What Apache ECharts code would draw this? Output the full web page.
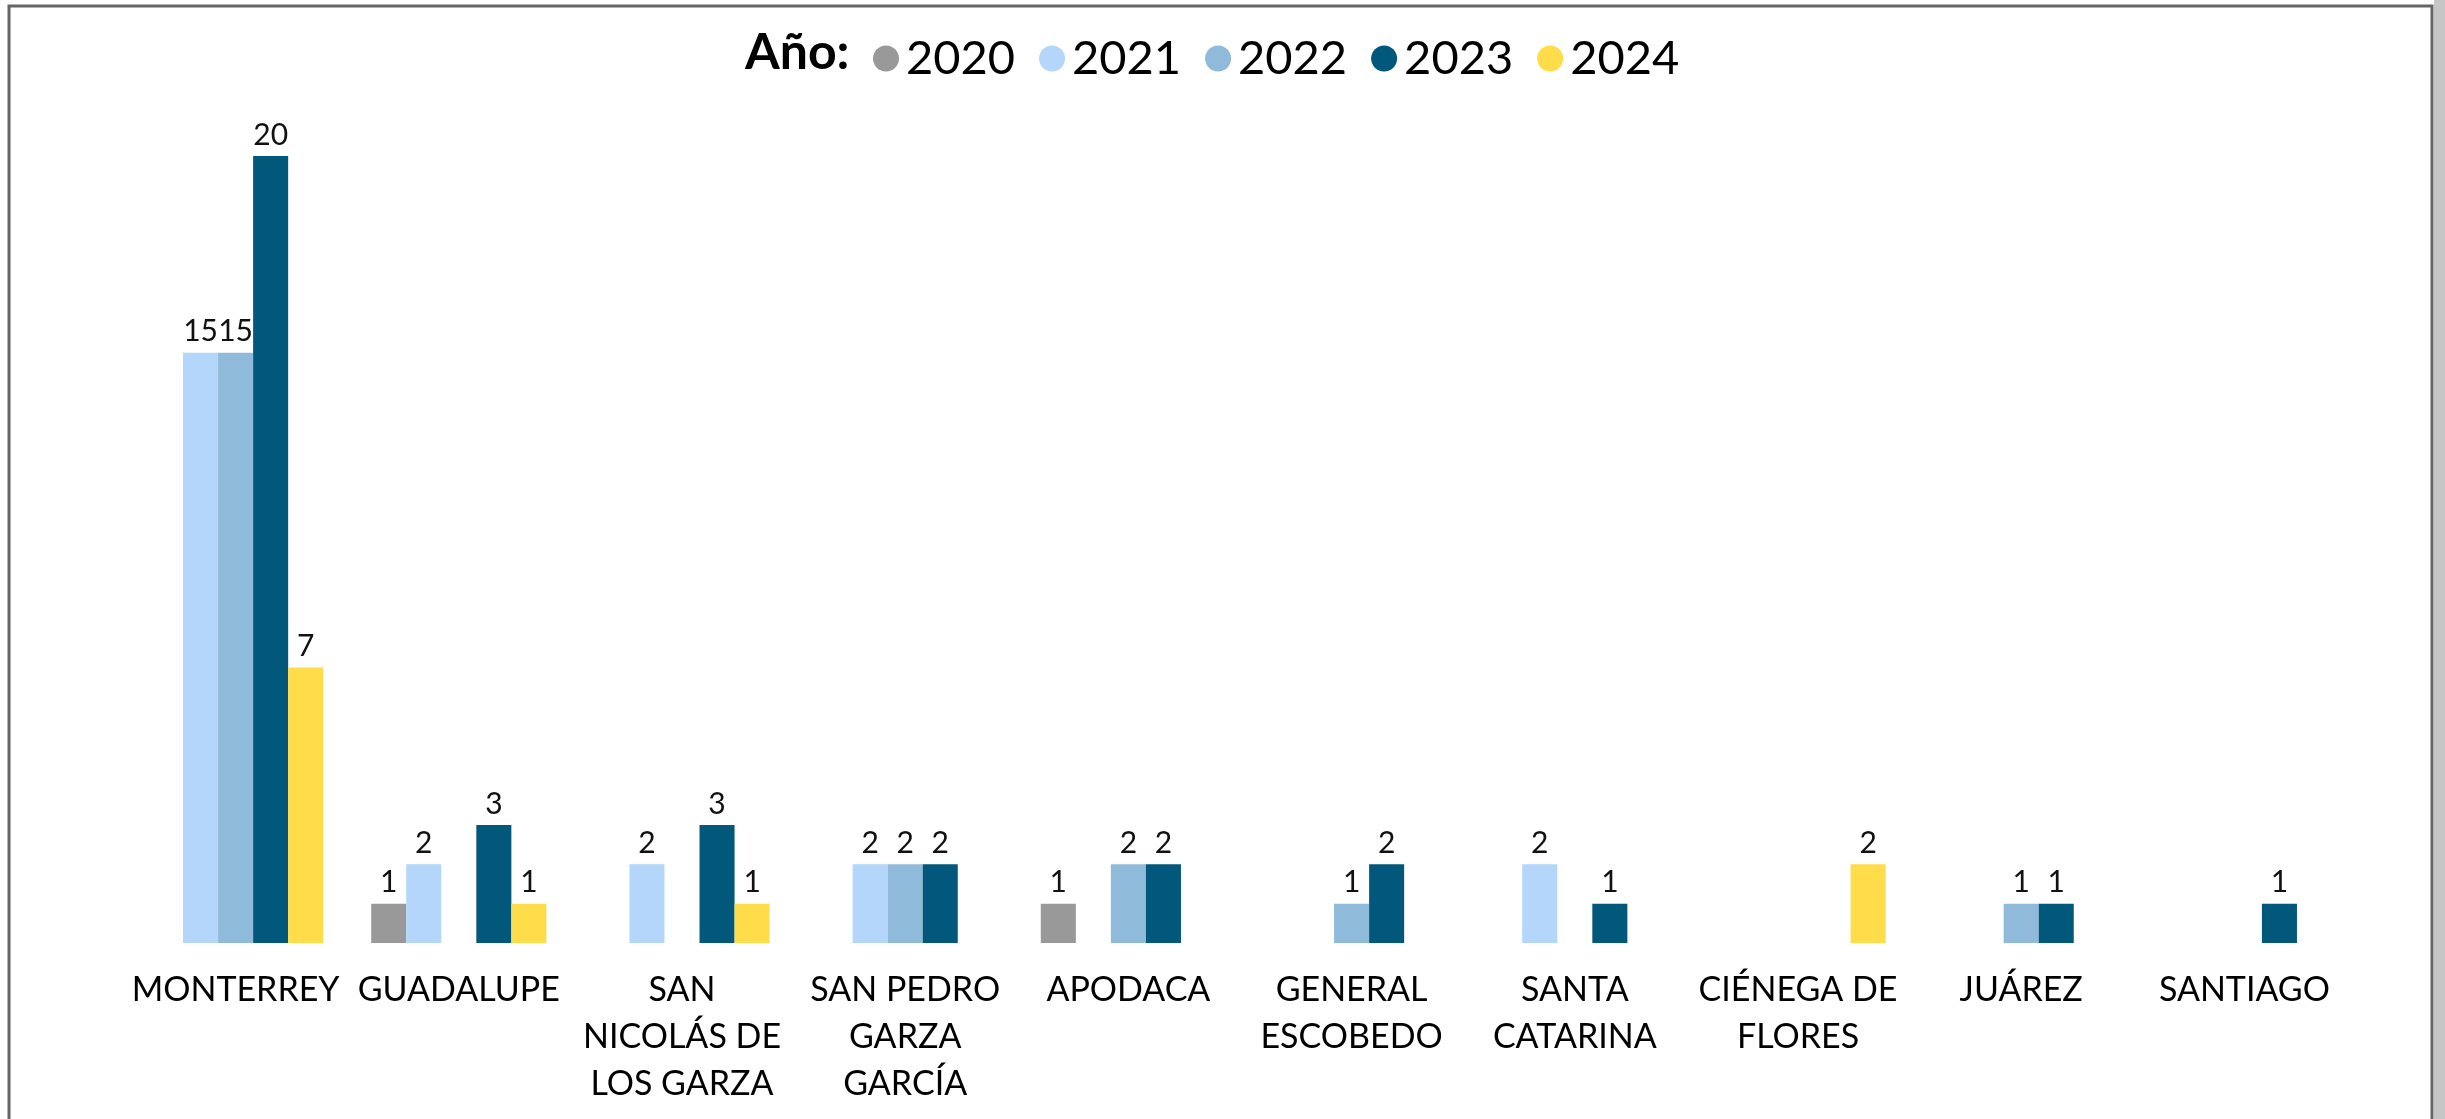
<!DOCTYPE html>
<html>
<head>
<meta charset="utf-8">
<title>Año</title>
<script src="https://cdn.jsdelivr.net/npm/echarts@6/dist/echarts.min.js"></script>
<style>
  html, body { margin: 0; padding: 0; background: #fff; }
  #main { width: 2445px; height: 1119px; }
</style>
</head>
<body>
<div id="main"></div>
<script>
  // municipios
  var categories = [
    'MONTERREY', 'GUADALUPE', 'SAN\nNICOLÁS DE\nLOS GARZA', 'SAN PEDRO\nGARZA\nGARCÍA', 'APODACA',
    'GENERAL\nESCOBEDO', 'SANTA\nCATARINA', 'CIÉNEGA DE\nFLORES', 'JUÁREZ', 'SANTIAGO'
  ];
  var years = ['2020', '2021', '2022', '2023', '2024'];
  var colors = ['#999999', '#b3d6fa', '#8fbad9', '#01587a', '#ffdd4a'];

  var y2020 = [null, 1, null, null, 1, null, null, null, null, null];
  var y2021 = [15, 2, 2, 2, null, null, 2, null, null, null];
  var y2022 = [15, null, null, 2, 2, 1, null, null, 1, null];
  var y2023 = [20, 3, 3, 2, 2, 2, 1, null, 1, 1];
  var y2024 = [7, 1, 1, null, null, null, null, 2, null, null];

  var values = [y2020, y2021, y2022, y2023, y2024];
  var fontFamily = 'Lato, "Open Sans", sans-serif';

  var series = [];
  for (var i = 0; i < years.length; i++) {
    series.push({
      name: years[i],
      type: 'bar',
      data: values[i],
      barGap: '0%',
      barCategoryGap: '21.5%',
      itemStyle: { color: colors[i] },
      label: {
        show: true,
        position: 'top',
        distance: 6,
        color: '#111',
        fontSize: 30,
        fontFamily: fontFamily
      }
    });
  }

  var option = {
    backgroundColor: '#fff',
    animation: false,
    color: colors,
    legend: {
      data: years,
      left: 868,
      top: 30,
      icon: 'circle',
      itemWidth: 26,
      itemHeight: 26,
      itemGap: 24,
      textStyle: {
        fontSize: 47,
        color: '#000',
        fontFamily: fontFamily,
        padding: [0, 0, 0, 2]
      }
    },
    grid: {
      left: 124,
      right: 89,
      top: 156,
      bottom: 176
    },
    xAxis: {
      type: 'category',
      data: categories,
      axisLine: { show: false },
      axisTick: { show: false },
      axisLabel: {
        interval: 0,
        margin: 24,
        fontSize: 34,
        lineHeight: 47,
        color: '#000',
        fontFamily: fontFamily
      }
    },
    yAxis: {
      type: 'value',
      min: 0,
      max: 20,
      show: false,
      splitLine: { show: false }
    },
    graphic: [
      // marco
      {
        type: 'rect',
        shape: { x: 9, y: 6, width: 2423, height: 1200 },
        style: { fill: 'none', stroke: '#666', lineWidth: 3 },
        silent: true
      },
      {
        type: 'rect',
        shape: { x: 2434, y: 0, width: 11, height: 1119 },
        style: { fill: '#c6c6c6' },
        silent: true
      },
      // título de la leyenda
      {
        type: 'text',
        left: 745,
        top: 28,
        style: {
          text: 'Año:',
          fontSize: 50,
          fontWeight: 'bold',
          fill: '#000',
          fontFamily: fontFamily
        }
      }
    ],
    series: series
  };

  var chart = echarts.init(document.getElementById('main'));
  chart.setOption(option);
</script>
</body>
</html>
